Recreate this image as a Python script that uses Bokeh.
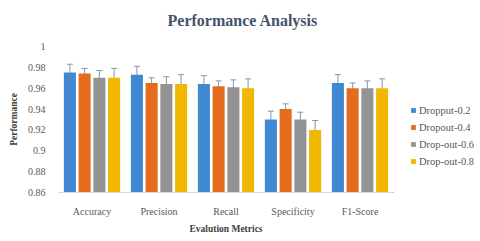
from bokeh.plotting import figure
from bokeh.layouts import row
from bokeh.models import (ColumnDataSource, FactorRange, Range1d, Whisker, Legend, LegendItem,
                          FixedTicker, NumeralTickFormatter, TeeHead, Title)
from bokeh.transform import dodge
from bokeh.embed import file_html
from bokeh.resources import INLINE

metrics = ["Accuracy", "Precision", "Recall", "Specificity", "F1-Score"]
series = ["Dropput-0.2", "Dropout-0.4", "Drop-out-0.6", "Drop-out-0.8"]
d02 = [0.975, 0.973, 0.964, 0.930, 0.965]
d04 = [0.974, 0.965, 0.962, 0.940, 0.960]
d06 = [0.970, 0.964, 0.961, 0.930, 0.960]
d08 = [0.970, 0.964, 0.960, 0.920, 0.960]
err02 = [0.008, 0.008, 0.008, 0.008, 0.008]
err04 = [0.005, 0.005, 0.005, 0.005, 0.005]
err06 = [0.007, 0.007, 0.007, 0.007, 0.007]
err08 = [0.009, 0.009, 0.009, 0.009, 0.009]
y_ticks = [0.86, 0.88, 0.90, 0.92, 0.94, 0.96, 0.98, 1.0]

colors = ["#3f89d2", "#e46c1c", "#939393", "#f2b700"]
offsets = [-0.33, -0.11, 0.11, 0.33]
vals = [d02, d04, d06, d08]
errs = [err02, err04, err06, err08]

SERIF = "Liberation Serif"

p = figure(width=393, height=236, x_range=FactorRange(factors=metrics, range_padding=0),
           y_range=Range1d(0.86, 1.0), output_backend="svg", toolbar_location=None,
           min_border_left=58, min_border_right=0,
           min_border_top=46, min_border_bottom=44)
spacer = Title(text=" ", text_font_size="1px")
p.add_layout(spacer, "above")
main_title = Title(text="Performance Analysis", align="left", offset=109,
                   text_font=SERIF, text_font_size="16px", text_font_style="bold",
                   text_color="#44546a")
p.add_layout(main_title, "above")

p.xgrid.visible = False
p.ygrid.visible = False
p.outline_line_color = None

sources = []
for i in range(4):
    data = dict(metric=metrics, idx=list(range(len(metrics))), top=vals[i],
                upper=[v + e for v, e in zip(vals[i], errs[i])],
                lower=[v - e for v, e in zip(vals[i], errs[i])])
    src = ColumnDataSource(data)
    sources.append(src)
    p.vbar(x=dodge("metric", offsets[i], range=p.x_range), top="top", bottom=y_ticks[0],
           width=0.18, source=src, fill_color=colors[i], line_color=None)
    w = Whisker(base=dodge("metric", offsets[i], range=p.x_range), upper="upper", lower="lower",
                source=src, line_color="#8497b0", line_width=1,
                upper_head=TeeHead(size=6, line_color="#8497b0", line_width=1),
                lower_head=TeeHead(size=6, line_color="#8497b0", line_width=1))
    p.add_layout(w)

p.yaxis.ticker = FixedTicker(ticks=y_ticks)
p.yaxis.formatter = NumeralTickFormatter(format="0.[00]")
p.yaxis.axis_line_color = None
p.yaxis.major_tick_line_color = None
p.yaxis.minor_tick_line_color = None
p.yaxis.major_label_text_font = SERIF
p.yaxis.major_label_text_font_size = "10px"
p.yaxis.major_label_text_color = "#595959"
p.yaxis.major_label_standoff = 7
p.yaxis.axis_label = "Performance"
p.yaxis.axis_label_text_font = SERIF
p.yaxis.axis_label_text_font_size = "9.5px"
p.yaxis.axis_label_text_font_style = "bold"
p.yaxis.axis_label_text_color = "#404040"
p.yaxis.axis_label_standoff = 6

p.xaxis.axis_line_color = "#d9d9d9"
p.xaxis.major_tick_line_color = None
p.xaxis.minor_tick_line_color = None
p.xaxis.major_label_text_font = SERIF
p.xaxis.major_label_text_font_size = "10px"
p.xaxis.major_label_text_color = "#595959"
p.xaxis.major_label_standoff = 7
p.xaxis.axis_label = "Evalution Metrics"
p.xaxis.axis_label_text_font = SERIF
p.xaxis.axis_label_text_font_size = "9.5px"
p.xaxis.axis_label_text_font_style = "bold"
p.xaxis.axis_label_text_color = "#404040"
p.xaxis.axis_label_standoff = 4

# legend panel (its bars lie far outside its visible ranges; only the legend shows)
q = figure(width=83, height=236, output_backend="svg", toolbar_location=None,
           x_axis_location=None, y_axis_location=None,
           x_range=Range1d(100, 101), y_range=Range1d(100, 101),
           min_border_left=0, min_border_right=0, min_border_top=0, min_border_bottom=0)
q.xgrid.visible = False
q.ygrid.visible = False
q.outline_line_color = None
items = []
for i in range(4):
    r = q.vbar(x="idx", top="top", bottom=y_ticks[0], width=0.1, source=sources[i],
               fill_color=colors[i], line_color=None)
    items.append(LegendItem(label=series[i], renderers=[r]))

legend = Legend(items=items, location=(17, 25))
legend.glyph_width = 6
legend.glyph_height = 6
legend.label_standoff = 3
legend.label_height = 12
legend.spacing = 5
legend.label_text_font = SERIF
legend.label_text_font_size = "10.5px"
legend.label_text_color = "#595959"
legend.border_line_color = None
legend.background_fill_alpha = 0
legend.padding = 0
legend.margin = 0
q.add_layout(legend, "center")

layout = row(p, q, spacing=0)
open("out.html", "w").write(file_html(layout, INLINE))
